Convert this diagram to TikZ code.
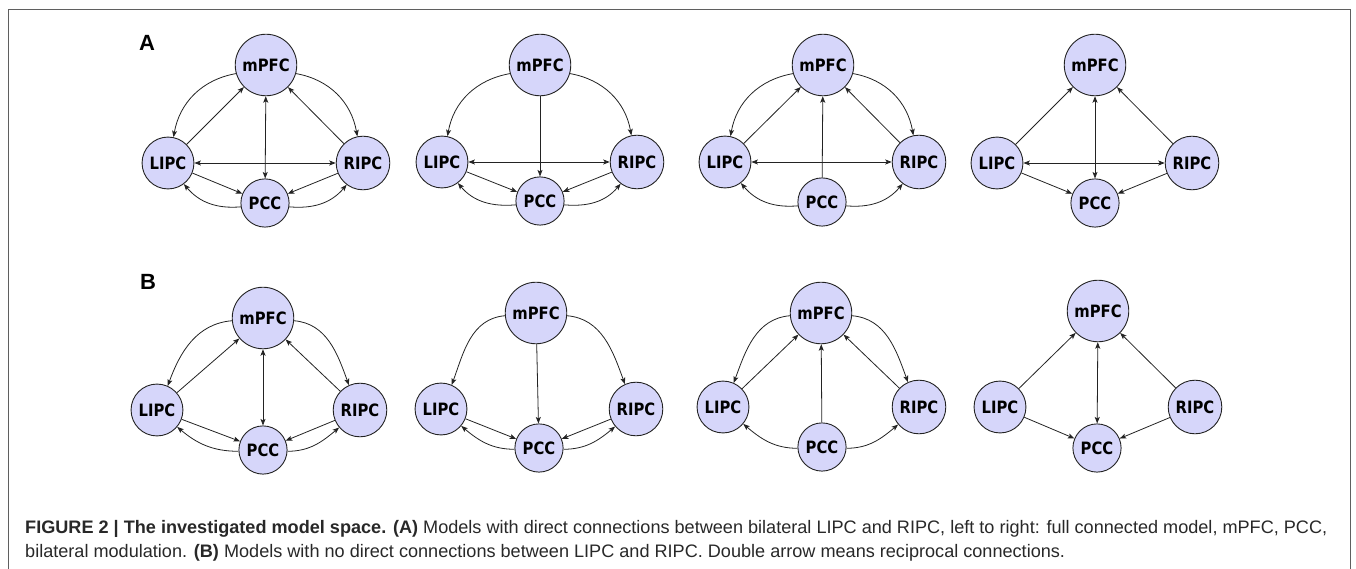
\documentclass[tikz,border=0pt]{standalone}
\usepackage{fontspec}
\setmainfont{Liberation Sans}
\newfontfamily\nf[FakeStretch=0.87]{DejaVu Sans}
\usetikzlibrary{arrows.meta}
\definecolor{nodefill}{RGB}{214,214,250}
\definecolor{edgecol}{RGB}{35,35,35}
\definecolor{framecol}{RGB}{95,95,95}
\definecolor{captext}{RGB}{40,40,40}
\newcommand\regionset[5]{%
  \node[region] (#1m) at (#2) {mPFC};
  \node[region] (#1l) at (#3) {LIPC};
  \node[region] (#1r) at (#4) {RIPC};
  \node[region] (#1p) at (#5) {PCC};}
\begin{document}
\begin{tikzpicture}[x=1pt,y=1pt,
  region/.style={circle, draw=edgecol, fill=nodefill, line width=0.9pt, inner sep=5pt,
    font=\nf\bfseries\fontsize{17}{17}\selectfont},
  tip/.style={},
  conn/.style={draw=edgecol, line width=0.8pt, -{Stealth[length=6.5pt,width=5pt,inset=1.5pt]}},
  biconn/.style={draw=edgecol, line width=0.8pt, {Stealth[length=6.5pt,width=5pt,inset=1.5pt]}-{Stealth[length=6.5pt,width=5pt,inset=1.5pt]}},
  panellabel/.style={font=\bfseries\fontsize{22}{22}\selectfont, inner sep=0pt},
  captionline/.style={anchor=base west, inner sep=0pt, font=\fontsize{18.1}{22}\selectfont, text=captext}]
\useasboundingbox (0,0) rectangle (1356,-569);
\draw[framecol, line width=1pt] (8,-569) -- (8,-10) -- (1350,-10) -- (1350,-569);

\node[panellabel] (la) at (147,-43) {A};
\node[panellabel] (lb) at (148,-282) {B};

% ---------- row A ----------
\regionset{a1}{266,-65}{168,-163}{363,-163}{265,-203}
\regionset{a2}{540,-65}{442,-162}{637,-162}{540,-201}
\regionset{a3}{823,-65}{725,-162}{919,-162}{822,-202}
\regionset{a4}{1095,-65}{997,-163}{1192,-163}{1095,-203}

% A1 full
\draw[conn] (a1m.196) to[out=190,in=80] (a1l.78);
\draw[conn] (a1m.-16) to[out=-10,in=100] (a1r.102);
\draw[conn] (a1l) -- (a1m);
\draw[conn] (a1r) -- (a1m);
\draw[biconn] (a1m) -- (a1p);
\draw[biconn] (a1l) -- (a1r);
\draw[conn] (a1l) -- (a1p);
\draw[conn] (a1r) -- (a1p);
\draw[conn] (a1p.189) to[out=185,in=-50] (a1l.-53);
\draw[conn] (a1p.-9) to[out=-5,in=230] (a1r.233);
% A2 mPFC
\draw[conn] (a2m.196) to[out=190,in=80] (a2l.78);
\draw[conn] (a2m.-16) to[out=-10,in=100] (a2r.102);
\draw[conn] (a2m) -- (a2p);
\draw[biconn] (a2l) -- (a2r);
\draw[conn] (a2l) -- (a2p);
\draw[conn] (a2r) -- (a2p);
\draw[conn] (a2p.189) to[out=185,in=-50] (a2l.-53);
\draw[conn] (a2p.-9) to[out=-5,in=230] (a2r.233);
% A3 PCC
\draw[conn] (a3m.196) to[out=190,in=80] (a3l.78);
\draw[conn] (a3m.-16) to[out=-10,in=100] (a3r.102);
\draw[conn] (a3l) -- (a3m);
\draw[conn] (a3r) -- (a3m);
\draw[conn] (a3p) -- (a3m);
\draw[biconn] (a3l) -- (a3r);
\draw[conn] (a3p.189) to[out=185,in=-50] (a3l.-53);
\draw[conn] (a3p.-9) to[out=-5,in=230] (a3r.233);
% A4 bilateral
\draw[conn] (a4l) -- (a4m);
\draw[conn] (a4r) -- (a4m);
\draw[biconn] (a4m) -- (a4p);
\draw[biconn] (a4l) -- (a4r);
\draw[conn] (a4l) -- (a4p);
\draw[conn] (a4r) -- (a4p);

% ---------- row B ----------
\regionset{b1}{263,-318}{157,-410}{360,-410}{263,-450}
\regionset{b2}{536,-313}{441,-409}{636,-409}{539,-448}
\regionset{b3}{821,-313}{723,-407}{919,-407}{822,-447}
\regionset{b4}{1098,-311}{1000,-407}{1195,-407}{1097,-448}

% B1 full
\draw[conn] (b1m.185) to[out=185,in=70] (b1l.66);
\draw[conn] (b1m.-5) to[out=-5,in=110] (b1r.114);
\draw[conn] (b1l) -- (b1m);
\draw[conn] (b1r) -- (b1m);
\draw[biconn] (b1m) -- (b1p);
\draw[conn] (b1l) -- (b1p);
\draw[conn] (b1r) -- (b1p);
\draw[conn] (b1p.183) to[out=180,in=-40] (b1l.-40);
\draw[conn] (b1p.-3) to[out=0,in=220] (b1r.220);
% B2 mPFC
\draw[conn] (b2m.185) to[out=185,in=70] (b2l.66);
\draw[conn] (b2m.-5) to[out=-5,in=110] (b2r.114);
\draw[conn] (b2m) -- (b2p);
\draw[conn] (b2l) -- (b2p);
\draw[conn] (b2r) -- (b2p);
\draw[conn] (b2p.183) to[out=180,in=-40] (b2l.-40);
\draw[conn] (b2p.-3) to[out=0,in=220] (b2r.220);
% B3 PCC
\draw[conn] (b3m.185) to[out=185,in=70] (b3l.66);
\draw[conn] (b3m.-5) to[out=-5,in=110] (b3r.114);
\draw[conn] (b3l) -- (b3m);
\draw[conn] (b3r) -- (b3m);
\draw[conn] (b3p) -- (b3m);
\draw[conn] (b3p.183) to[out=180,in=-40] (b3l.-40);
\draw[conn] (b3p.-3) to[out=0,in=220] (b3r.220);
% B4 bilateral
\draw[conn] (b4l) -- (b4m);
\draw[conn] (b4r) -- (b4m);
\draw[biconn] (b4m) -- (b4p);
\draw[conn] (b4l) -- (b4p);
\draw[conn] (b4r) -- (b4p);

% ---------- caption ----------
\node[captionline] (cap1) at (25,-533) {\textbf{FIGURE 2 | The investigated model space. (A)} Models with direct connections between bilateral LIPC and RIPC, left to right: full connected model, mPFC, PCC,};
\node[captionline] (cap2) at (25,-557) {bilateral modulation. \textbf{(B)} Models with no direct connections between LIPC and RIPC. Double arrow means reciprocal connections.};
\end{tikzpicture}
\end{document}
